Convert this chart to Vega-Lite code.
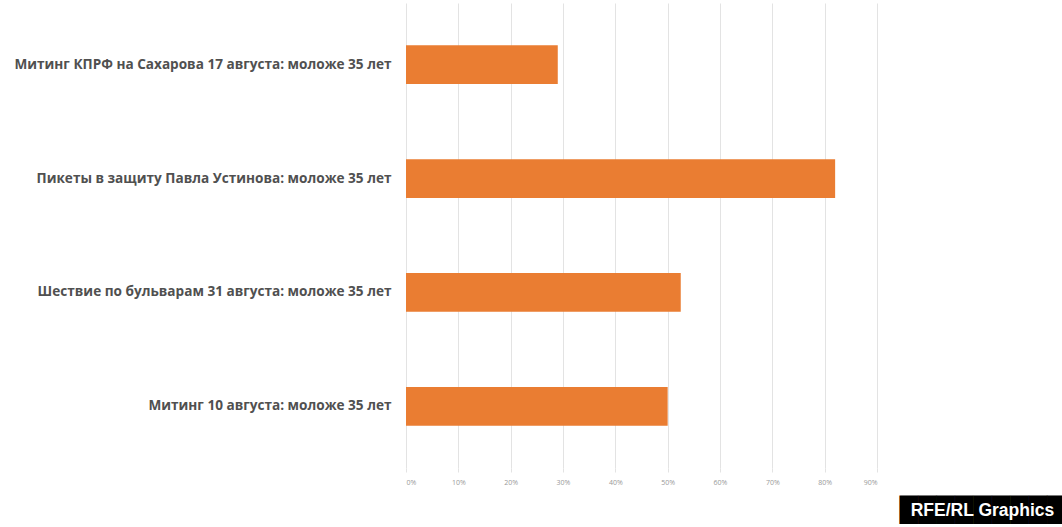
{
  "$schema": "https://vega.github.io/schema/vega-lite/v6.json",
  "width": 471,
  "height": 465,
  "autosize": "none",
  "padding": {"left": 406, "top": 3, "right": 185, "bottom": 59},
  "background": "white",
  "config": {"view": {"stroke": null}},
  "data": {"values": [
    {"label": "Митинг КПРФ на Сахарова 17 августа: моложе 35 лет", "value": 0.29},
    {"label": "Пикеты в защиту Павла Устинова: моложе 35 лет", "value": 0.82},
    {"label": "Шествие по бульварам 31 августа: моложе 35 лет", "value": 0.525},
    {"label": "Митинг 10 августа: моложе 35 лет", "value": 0.50}
  ]},
  "title": {
    "text": "█████████",
    "subtitle": "RFE/RL Graphics",
    "orient": "bottom",
    "anchor": "middle",
    "frame": "group",
    "dx": 341,
    "offset": 14,
    "font": "DejaVu Sans",
    "fontSize": 24,
    "fontWeight": "normal",
    "color": "black",
    "subtitleFont": "Liberation Sans",
    "subtitleFontSize": 17.5,
    "subtitleFontWeight": "bold",
    "subtitleColor": "white",
    "subtitlePadding": -21
  },
  "mark": {"type": "bar", "color": "#ea7d32"},
  "encoding": {
    "y": {
      "field": "label",
      "type": "nominal",
      "sort": null,
      "scale": {"paddingInner": 0.66, "paddingOuter": 0.37},
      "axis": {
        "title": null,
        "ticks": false,
        "domain": false,
        "labelPadding": 15,
        "labelFont": "Open Sans",
        "labelFontSize": 13.6,
        "labelFontWeight": "bold",
        "labelColor": "#505050",
        "labelLimit": 0
      }
    },
    "x": {
      "field": "value",
      "type": "quantitative",
      "scale": {"domain": [0, 0.9], "nice": false},
      "axis": {
        "title": null,
        "format": ".0%",
        "values": [0, 0.1, 0.2, 0.3, 0.4, 0.5, 0.6, 0.7, 0.8, 0.9],
        "grid": true,
        "gridColor": "#e3e3e3",
        "domain": false,
        "ticks": true,
        "tickColor": "#e3e3e3",
        "tickSize": 4,
        "labelFont": "Open Sans",
        "labelFontSize": 7,
        "labelColor": "#999999",
        "labelPadding": 6
      }
    }
  }
}
